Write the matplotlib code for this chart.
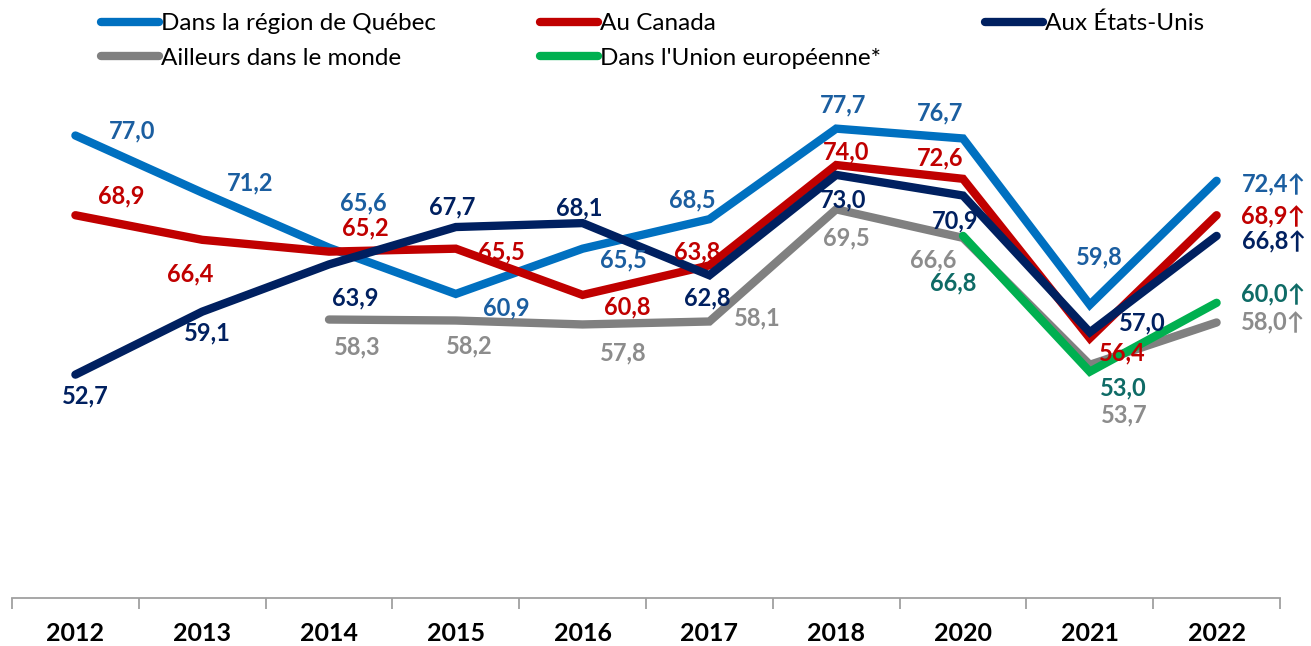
import matplotlib
matplotlib.use("Agg")
import matplotlib.pyplot as plt
import numpy as np

# data
years = ['2012', '2013', '2014', '2015', '2016', '2017', '2018', '2020', '2021', '2022']
quebec = [77.0, 71.2, 65.6, 60.9, 65.5, 68.5, 77.7, 76.7, 59.8, 72.4]
canada = [68.9, 66.4, 65.2, 65.5, 60.8, 63.8, 74.0, 72.6, 56.4, 68.9]
usa = [52.7, 59.1, 63.9, 67.7, 68.1, 62.8, 73.0, 70.9, 57.0, 66.8]
ailleurs = [np.nan, np.nan, 58.3, 58.2, 57.8, 58.1, 69.5, 66.6, 53.7, 58.0]
ue = [np.nan, np.nan, np.nan, np.nan, np.nan, np.nan, np.nan, 66.8, 53.0, 60.0]
names = ['Dans la région de Québec', 'Au Canada', 'Aux États-Unis',
         'Ailleurs dans le monde', "Dans l'Union européenne*"]

# styles
line_cols = ['#0070C0', '#C00000', '#002060', '#808080', '#00B050']
text_cols = ['#1B5EA0', '#C00000', '#002060', '#8C8C8C', '#0E6B66']

# label offsets in pixels (dx, dy up)
offs = [
    [(57, 5), (48, 10), (34, 45), (51, -14), (41, -11), (-17, 19), (7, 24), (-23, 26), (10, 48), (57, -4)],
    [(46, 19), (-12, -34), (36, 24), (46, -3), (45, -12), (-12, 13), (10, 13), (-23, 21), (32, -15), (57, -2)],
    [(10, -21), (5, -21), (26, -33), (-4, 20), (-3, 15), (-2, -23), (7, -25), (-8, -25), (53, 9), (57, -6)],
    [None, None, (28, -27), (14, -25), (41, -28), (48, 4), (10, -29), (-30, -22), (34, -50), (57, 0)],
    [None, None, None, None, None, None, None, (-10, -47), (34, -16), (57, 8)],
]

fam = ['Lato', 'DejaVu Sans']
plt.rcParams['font.family'] = fam

fig = plt.figure(figsize=(13.11, 6.46), dpi=100)
ax = fig.add_axes([12 / 1311, 48 / 646, 1268 / 1311, 492 / 646])

x = np.arange(len(years))
series = [quebec, canada, usa, ailleurs, ue]
handles = []
for k, s in enumerate(series):
    h, = ax.plot(x, s, color=line_cols[k], lw=6, solid_capstyle='round',
                 solid_joinstyle='miter', label=names[k], zorder=2 + k)
    handles.append(h)
    for i, v in enumerate(s):
        if np.isnan(v) or offs[k][i] is None:
            continue
        txt = f'{v:.1f}'.replace('.', ',')
        if i == len(years) - 1:
            txt += '↑'
        ax.annotate(txt, (i, v), xytext=offs[k][i], textcoords='offset pixels',
                    ha='center', va='center', color=text_cols[k],
                    fontsize=17, fontweight='bold', zorder=10)

ax.set_xlim(-0.5, len(years) - 0.5)
ax.set_ylim(30, 80)
for sp in ['top', 'left', 'right']:
    ax.spines[sp].set_visible(False)
ax.spines['bottom'].set_color('#A0A0A0')
ax.spines['bottom'].set_linewidth(1.3)
ax.set_yticks([])
ax.set_xticks(x)
ax.set_xticklabels(years, fontsize=18, fontweight='bold')
ax.tick_params(axis='x', which='major', length=0, pad=17)
ax.set_xticks(np.arange(-0.5, len(years)), minor=True)
ax.tick_params(axis='x', which='minor', length=8, color='#A0A0A0', width=1.3)

order = [0, 3, 1, 4, 2]
fig.legend([handles[i] for i in order], [names[i] for i in order],
           ncol=3, loc='upper left', bbox_to_anchor=(101 / 1311, 1 - 13 / 646),
           frameon=False, fontsize=17.5, handlelength=2.4, handletextpad=0.05,
           columnspacing=4.3, labelspacing=0.55, borderpad=0, borderaxespad=0)

fig.savefig('out.png', dpi=100)
